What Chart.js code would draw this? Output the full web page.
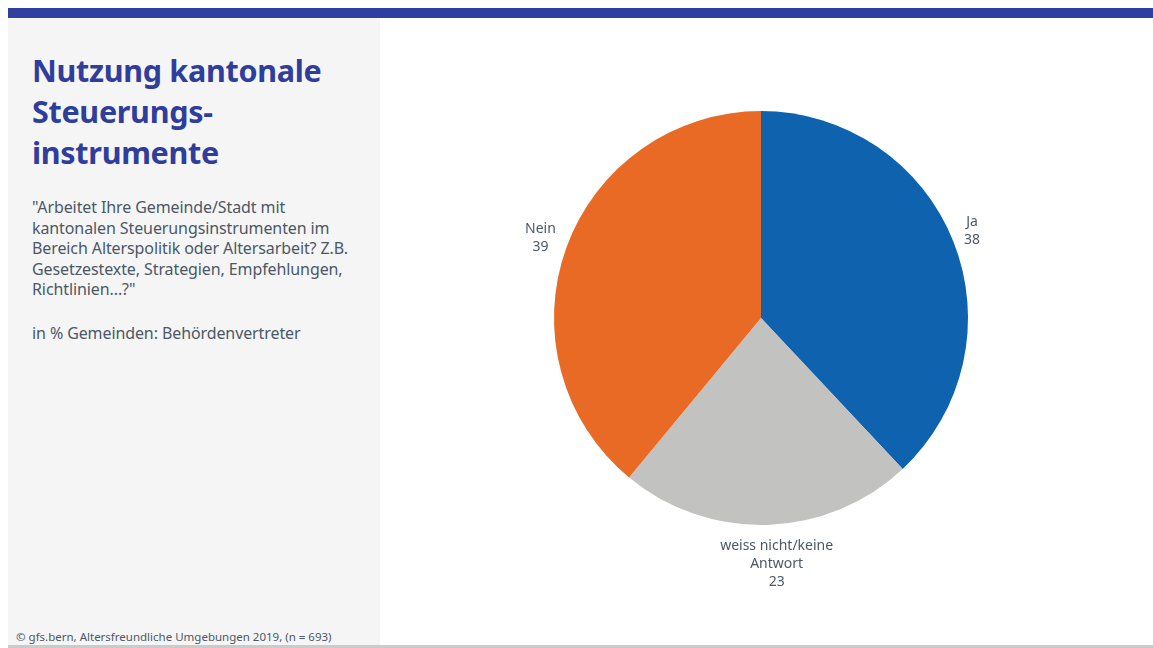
<!DOCTYPE html>
<html lang="de">
<head>
<meta charset="utf-8">
<title>Nutzung kantonale Steuerungsinstrumente</title>
<script src="https://cdn.jsdelivr.net/npm/chart.js@4/dist/chart.umd.min.js"></script>
<style>
  html, body { margin: 0; padding: 0; background: #fff; }
  body { width: 1153px; height: 648px; position: relative; overflow: hidden; font-family: "Noto Sans", "Open Sans", sans-serif; }
  #topbar { position: absolute; left: 8px; top: 8px; width: 1145px; height: 10px; background: #303f9f; }
  #side { position: absolute; left: 8px; top: 18px; width: 372px; height: 627px; background: #f5f5f5; }
  #bottomline { position: absolute; left: 8px; top: 645px; width: 1145px; height: 3px; background: #cbcbcb; }
  h1 { position: absolute; left: 32px; top: 50px; margin: 0; font-size: 30.5px; line-height: 41px; font-weight: 700; color: #2f3d9c; letter-spacing: -0.3px; }
  .question { position: absolute; left: 32px; top: 197px; margin: 0; font-size: 16px; line-height: 20.5px; color: #4b5866; letter-spacing: -0.1px; white-space: nowrap; }
  .basis { position: absolute; left: 32px; top: 322px; margin: 0; font-size: 16px; color: #4b5866; letter-spacing: -0.1px; }
  .source { position: absolute; left: 16px; top: 629px; margin: 0; font-size: 11.5px; color: #4b5866; }
  #chartBox { position: absolute; left: 380px; top: 18px; width: 762px; height: 600px; }
</style>
</head>
<body>
<div id="topbar"></div>
<div id="side"></div>
<div id="bottomline"></div>
<h1>Nutzung kantonale<br>Steuerungs-<br>instrumente</h1>
<p class="question">"Arbeitet Ihre Gemeinde/Stadt mit<br>kantonalen Steuerungsinstrumenten im<br>Bereich Alterspolitik oder Altersarbeit? Z.B.<br>Gesetzestexte, Strategien, Empfehlungen,<br>Richtlinien...?"</p>
<p class="basis">in % Gemeinden: Behördenvertreter</p>
<p class="source">© gfs.bern, Altersfreundliche Umgebungen 2019, (n = 693)</p>
<div id="chartBox"><canvas id="pieChart" width="762" height="600"></canvas></div>

<script>
// Antworten in Prozent, im Uhrzeigersinn ab 12 Uhr
const categories = [['Ja'], ['weiss nicht/keine', 'Antwort'], ['Nein']];
const values = [38, 23, 39];
const sliceColors = ['#0e62ae', '#c2c2c1', '#e86a24'];

// Beschriftung ausserhalb der Segmente: Kategorie + Wert
const outsideLabels = {
  id: 'outsideLabels',
  afterDatasetsDraw(chart) {
    const ctx = chart.ctx;
    const meta = chart.getDatasetMeta(0);
    const lineH = 18;
    ctx.save();
    ctx.font = '14px "Noto Sans", sans-serif';
    ctx.fillStyle = '#4b5866';
    ctx.textAlign = 'center';
    ctx.textBaseline = 'middle';
    meta.data.forEach((arc, i) => {
      const p = arc.getProps(['x', 'y', 'startAngle', 'endAngle', 'outerRadius']);
      const mid = (p.startAngle + p.endAngle) / 2;
      const dx = Math.cos(mid), dy = Math.sin(mid);
      const lines = categories[i].concat([String(values[i])]);
      const w = Math.max(...lines.map(l => ctx.measureText(l).width));
      const h = lines.length * lineH;
      const cx = p.x + dx * (p.outerRadius + 12) + dx * w / 2 + (lines.length > 2 ? 7 : 0);
      const cy = p.y + dy * (p.outerRadius + 12) + dy * h / 2;
      lines.forEach((l, k) => {
        ctx.fillText(l, cx, cy - h / 2 + lineH / 2 + k * lineH);
      });
    });
    ctx.restore();
  }
};

new Chart(document.getElementById('pieChart'), {
  type: 'pie',
  data: {
    labels: categories.map(c => c.join(' ')),
    datasets: [{
      data: values,
      backgroundColor: sliceColors,
      borderWidth: 0
    }]
  },
  options: {
    responsive: false,
    animation: false,
    layout: { padding: 93 },
    plugins: {
      legend: { display: false },
      tooltip: { enabled: false }
    }
  },
  plugins: [outsideLabels]
});
</script>
</body>
</html>
